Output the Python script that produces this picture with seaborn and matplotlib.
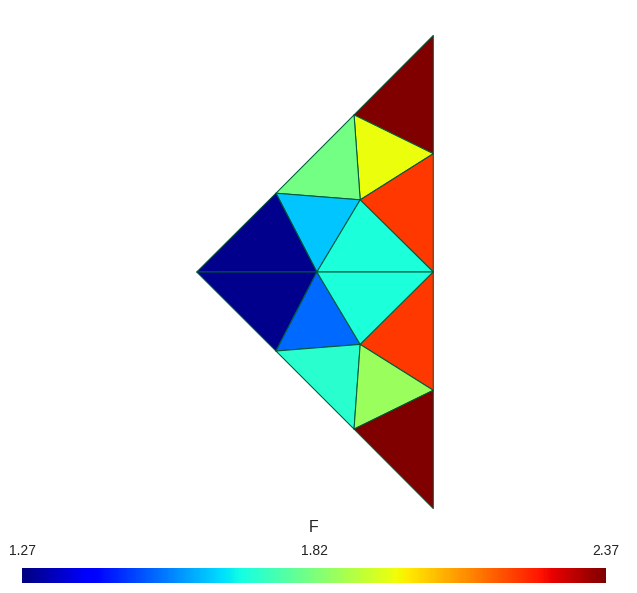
import numpy as np
import matplotlib
matplotlib.use("Agg")
import matplotlib.pyplot as plt
import matplotlib.tri as mtri
import seaborn as sns

# mesh nodes (left tip at origin, right edge at x=1)
node_x = [0.0, 0.335, 0.665, 1.0, 1.0, 1.0, 1.0, 1.0, 0.335, 0.665, 0.508, 0.691, 0.691]
node_y = [0.0, 0.333, 0.664, 1.0, 0.5, 0.0, -0.5, -1.0, -0.334, -0.664, 0.0, 0.305, -0.306]

# triangles (node indices) and value of F per triangle
cells = [
    [2, 3, 4], [2, 4, 11], [1, 2, 11], [1, 11, 10], [0, 1, 10],
    [4, 5, 11], [11, 5, 10], [0, 10, 8], [10, 12, 8], [10, 5, 12],
    [5, 6, 12], [8, 12, 9], [12, 6, 9], [9, 6, 7],
]
f_vals = [2.37, 1.97, 1.81, 1.62, 1.285,
          2.205, 1.695, 1.285, 1.52, 1.695,
          2.205, 1.71, 1.86, 2.37]

f_min, f_max = 1.27, 2.37
tick_labels = ["1.27", "1.82", "2.37"]

sns.set_theme(style="white")
plt.rcParams["font.family"] = ["Liberation Sans", "DejaVu Sans"]

W, H = 637, 593
fig = plt.figure(figsize=(W / 100, H / 100), dpi=100)

# main axes, pixel mapping: x=0 -> 196.7px, y=0 -> 272px, 236.6px per unit
scale = 236.6
ox, oy = 196.7, 272.0
ax_h = 520
ax = fig.add_axes([0, 1 - ax_h / H, 1, ax_h / H])
ax.set_xlim(-ox / scale, (W - ox) / scale)
ax.set_ylim(-(ax_h - oy) / scale, oy / scale)
ax.axis("off")

cmap = matplotlib.colormaps["jet"]
tri = mtri.Triangulation(node_x, node_y, cells)
pc = ax.tripcolor(tri, facecolors=np.array(f_vals), cmap=cmap, vmin=f_min, vmax=f_max,
                  edgecolors="#00573a", linewidth=0.75)

# colorbar along the bottom
cb_l, cb_r, cb_t, cb_b = 22, 606, 568, 583
cax = fig.add_axes([cb_l / W, 1 - cb_b / H, (cb_r - cb_l) / W, (cb_b - cb_t) / H])
cb = fig.colorbar(pc, cax=cax, orientation="horizontal")
cb.set_ticks([])
cb.outline.set_visible(False)

for xp, lab in zip([cb_l + 1, (cb_l + cb_r) / 2, cb_r], tick_labels):
    fig.text(xp / W, 1 - 551 / H, lab, ha="center", va="center", fontsize=10, color="#222222")
fig.text(((cb_l + cb_r) / 2) / W, 1 - 527 / H, "F", ha="center", va="center", fontsize=11.5, color="#222222")

fig.savefig("out.png", dpi=100)
